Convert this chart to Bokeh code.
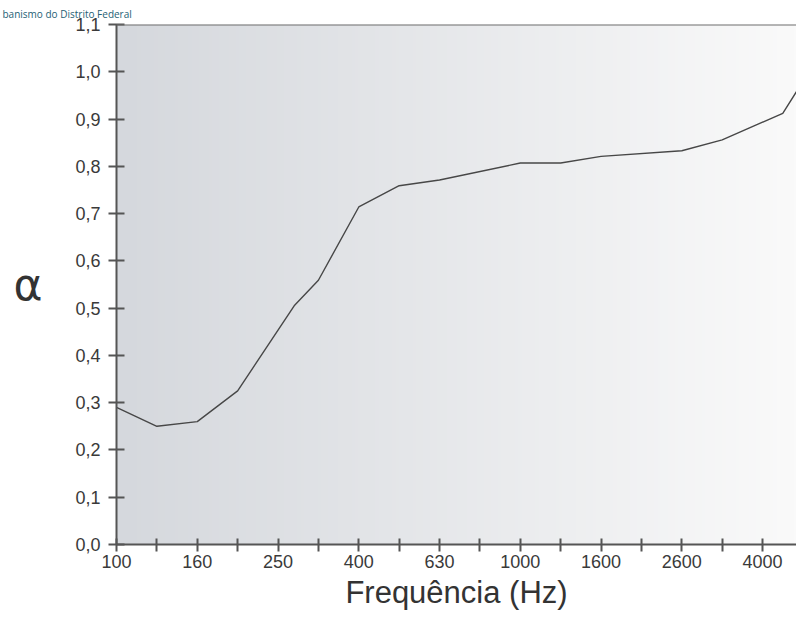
import numpy as np
from bokeh.plotting import figure
from bokeh.models import FixedTicker, Span, Range1d, Title
from bokeh.embed import file_html
from bokeh.resources import INLINE

# --- data -------------------------------------------------------------
band_labels = ["100", "125", "160", "200", "250", "315", "400", "500", "630",
               "800", "1000", "1250", "1600", "2000", "2600", "3150", "4000", "5000"]
shown_labels = ["100", "160", "250", "400", "630", "1000", "1600", "2600", "4000"]

# curve: position on the 1/3-octave band axis (0 = 100 Hz)
curve_band = [0, 1, 2, 3, 4.4, 5, 6, 7, 8, 10, 11, 12, 14, 15, 16.5, 17]
curve_alpha = [0.29, 0.25, 0.26, 0.325, 0.505, 0.559, 0.714, 0.759, 0.771,
               0.807, 0.807, 0.821, 0.833, 0.856, 0.912, 0.98]

alpha_ticks = [0.0, 0.1, 0.2, 0.3, 0.4, 0.5, 0.6, 0.7, 0.8, 0.9, 1.0, 1.1]
alpha_tick_labels = ["0,0", "0,1", "0,2", "0,3", "0,4", "0,5", "0,6", "0,7",
                     "0,8", "0,9", "1,0", "1,1"]

X_END = 16.84
Y_END = 1.1

p = figure(width=796, height=624, output_backend="svg", toolbar_location=None,
           x_range=Range1d(0, X_END), y_range=Range1d(0, Y_END),
           min_border_left=116, min_border_right=0, min_border_top=12,
           min_border_bottom=80)
p.background_fill_color = "white"
p.border_fill_color = "white"
p.outline_line_color = None
p.grid.visible = False

# watermark text from the source page, top-left
p.title = Title(text="banismo do Distrito Federal", align="left", offset=-114,
                standoff=8, text_font="Open Sans", text_font_size="10px",
                text_font_style="normal", text_color="#1e6175")

# background gradient (left grey-blue to right near white)
n = 200
left = np.array([213, 216, 221])
right = np.array([250, 250, 250])
img = np.empty((2, n), dtype=np.uint32)
view = img.view(dtype=np.uint8).reshape((2, n, 4))
for i in range(n):
    f = i / (n - 1)
    c = left + (right - left) * f
    view[:, i, 0] = int(c[0])
    view[:, i, 1] = int(c[1])
    view[:, i, 2] = int(c[2])
    view[:, i, 3] = 255
p.image_rgba(image=[img], x=0, y=0, dw=X_END, dh=Y_END)

# top frame line
p.add_layout(Span(location=Y_END, dimension="width", line_color="#6e6e6e", line_width=2))

# curve
p.line(curve_band, curve_alpha, line_color="#474747", line_width=1.4)

# x axis
xa = p.xaxis[0]
xa.ticker = FixedTicker(ticks=list(range(len(band_labels))))
xa.major_label_overrides = {i: (lab if lab in shown_labels else "")
                            for i, lab in enumerate(band_labels)}
xa.minor_tick_line_color = None
xa.axis_line_color = "#555555"
xa.axis_line_width = 2
xa.major_tick_line_color = "#555555"
xa.major_tick_line_width = 2
xa.major_tick_in = 6
xa.major_tick_out = 7
xa.major_label_standoff = 3
xa.major_label_text_font = "Liberation Sans"
xa.major_label_text_font_size = "18px"
xa.major_label_text_color = "#3a3a3a"
xa.axis_label = "Frequência (Hz)"
xa.axis_label_text_font = "Liberation Sans"
xa.axis_label_text_font_size = "31px"
xa.axis_label_text_font_style = "normal"
xa.axis_label_text_color = "#333333"
xa.axis_label_standoff = 4

# y axis
ya = p.yaxis[0]
ya.ticker = FixedTicker(ticks=alpha_ticks)
ya.major_label_overrides = dict(zip(alpha_ticks, alpha_tick_labels))
ya.minor_tick_line_color = None
ya.axis_line_color = "#555555"
ya.axis_line_width = 2
ya.major_tick_line_color = "#555555"
ya.major_tick_line_width = 2
ya.major_tick_in = 8
ya.major_tick_out = 8
ya.major_label_standoff = 8
ya.major_label_text_font = "Liberation Sans"
ya.major_label_text_font_size = "18px"
ya.major_label_text_color = "#3a3a3a"
ya.axis_label = "α"
ya.axis_label_orientation = "horizontal"
ya.axis_label_text_font = "DejaVu Sans"
ya.axis_label_text_font_size = "44px"
ya.axis_label_text_font_style = "normal"
ya.axis_label_text_color = "#333333"
ya.axis_label_text_baseline = "top"
ya.axis_label_standoff = 30

open("out.html", "w").write(file_html(p, INLINE))
